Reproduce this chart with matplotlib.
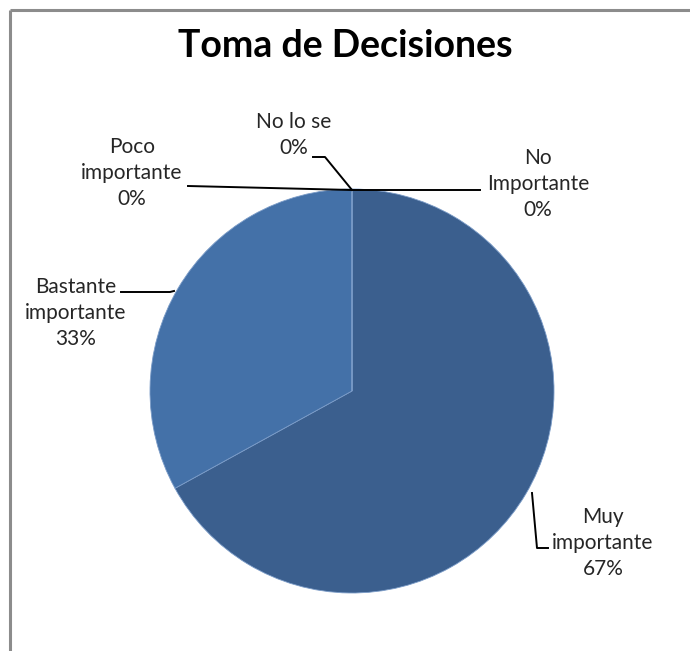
import matplotlib
matplotlib.use("Agg")
import matplotlib.pyplot as plt

# data
categories = ["Muy\nimportante", "Bastante\nimportante", "Poco\nimportante", "No lo se", "No\nImportante"]
values = [67, 33, 0, 0, 0]
colors = ["#3b5f8e", "#4471a8", "#4a7ab3", "#5585c0", "#5b8bc4"]
title = "Toma de Decisiones"

W, H = 690, 651
fig = plt.figure(figsize=(W / 100, H / 100), dpi=100)
ax = fig.add_axes([0, 0, 1, 1])
ax.set_xlim(0, W)
ax.set_ylim(0, H)
ax.axis("off")

def Y(y):
    return H - y

# chart frame
ax.plot([10, 10], [Y(10), 0], color="#8c8c8c", lw=2.2, solid_capstyle="butt")
ax.plot([10, W], [Y(10), Y(10)], color="#8c8c8c", lw=2.2, solid_capstyle="butt")

ax.pie(values, colors=colors, startangle=90, counterclock=False,
       center=(352, Y(391)), radius=202,
       wedgeprops=dict(edgecolor="#7b9cc8", linewidth=0.6))
ax.set_xlim(0, W)
ax.set_ylim(0, H)
ax.set_aspect("auto")

ax.text(345, Y(46), title, ha="center", va="center", fontsize=27,
        fontweight="bold", family="Lato", color="black")

# label placement (text centre, leader line points) in pixel coords
label_pos = [(603, 543), (76, 313), (132, 173), (294, 135), (538, 184)]
leaders = [
    [(532, 493), (537, 548), (548, 548)],
    [(174, 291), (170, 292), (121, 292)],
    [(352, 190), (188, 186)],
    [(352, 190), (325, 157), (313, 157)],
    [(352, 190), (480, 190)],
]

for cat, v, (tx, ty), pts in zip(categories, values, label_pos, leaders):
    ax.text(tx, Y(ty), f"{cat}\n{v:.0f}%", ha="center", va="center",
            fontsize=15, family="Lato", color="#262626", linespacing=1.38)
    ax.plot([p[0] for p in pts], [Y(p[1]) for p in pts], color="black", lw=1.4)

fig.savefig("out.png", dpi=100)
